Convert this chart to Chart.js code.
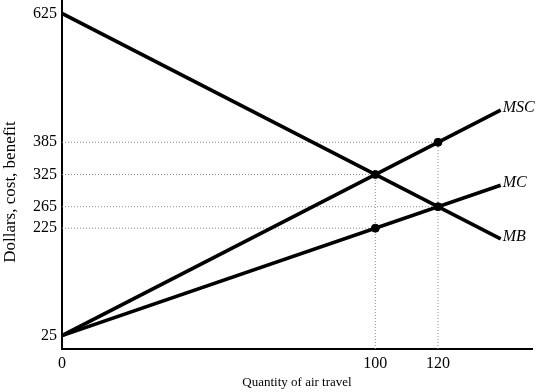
<!DOCTYPE html>
<html>
<head>
<meta charset="UTF-8">
<script src="https://cdn.jsdelivr.net/npm/chart.js"></script>
<style>
  body { margin: 0; background: #fff; }
  #wrap { width: 539px; height: 392px; }
</style>
</head>
<body>
<div id="wrap"><canvas id="graph" width="539" height="392"></canvas></div>
<script>
// data
const quantities = [0, 140];
const mscValues = [25, 445];
const mcValues = [25, 305];
const mbValues = [625, 205];
const markedX = [100, 100, 120, 120];
const markedY = [325, 225, 385, 265];
const yTicks = [25, 225, 265, 325, 385, 625];
const xTicks = [0, 100, 120];
const curveNames = ['MSC', 'MC', 'MB'];

const serif = '"Liberation Serif", "DejaVu Serif", serif';

function pts(xs, ys) {
  return xs.map((x, i) => ({ x: x, y: ys[i] }));
}

// the dots go first so they sit on top of the lines
const datasets = [{
  data: pts(markedX, markedY), showLine: false, pointRadius: 4,
  pointBackgroundColor: '#000', pointBorderColor: '#000'
}];
[mscValues, mcValues, mbValues].forEach(v => {
  datasets.push({
    data: pts(quantities, v), borderColor: '#000', borderWidth: 3.5,
    pointRadius: 0, fill: false
  });
});
// dotted guides: from y-axis to a point, and from x-axis up
for (let i = 0; i < markedX.length; i++) {
  datasets.push({
    data: pts([0, markedX[i]], [markedY[i], markedY[i]]),
    borderColor: '#8a8a8a', borderWidth: 1, borderDash: [1, 2], pointRadius: 0
  });
}
[[100, 325], [120, 385]].forEach(p => {
  datasets.push({
    data: pts([p[0], p[0]], [0, p[1]]),
    borderColor: '#8a8a8a', borderWidth: 1, borderDash: [1, 2], pointRadius: 0
  });
});

const extraText = {
  id: 'extraText',
  afterDraw(chart) {
    const c = chart.ctx, xs = chart.scales.x, ys = chart.scales.y;
    const ends = [mscValues[1], mcValues[1], mbValues[1]];
    c.save();
    c.fillStyle = '#000';
    c.textBaseline = 'middle';
    c.font = 'italic 16px ' + serif;
    curveNames.forEach((n, i) => {
      c.fillText(n, xs.getPixelForValue(quantities[1]) + 2, ys.getPixelForValue(ends[i]) - 2);
    });
    // y axis title
    c.font = '17px ' + serif;
    c.textAlign = 'center';
    c.translate(11, 192);
    c.rotate(-Math.PI / 2);
    c.fillText('Dollars, cost, benefit', 0, 0);
    c.restore();
  }
};

function noPad(s) {
  s.paddingTop = 0; s.paddingBottom = 0; s.paddingLeft = 0; s.paddingRight = 0;
}

new Chart(document.getElementById('graph'), {
  type: 'line',
  data: { datasets: datasets },
  plugins: [extraText],
  options: {
    responsive: false,
    animation: false,
    layout: { autoPadding: false, padding: { top: 0, right: 7, bottom: 0, left: 0 } },
    plugins: { legend: { display: false }, tooltip: { enabled: false } },
    scales: {
      x: {
        type: 'linear', min: 0, max: 150,
        grid: { display: false, drawTicks: false },
        border: { color: '#000', width: 2 },
        afterBuildTicks: s => { s.ticks = xTicks.map(v => ({ value: v })); },
        afterFit: s => { s.height = 43; noPad(s); },
        ticks: { color: '#000', font: { family: serif, size: 16 }, padding: 5, maxRotation: 0 },
        title: { display: true, text: 'Quantity of air travel', color: '#000',
                 font: { family: serif, size: 13 }, padding: { top: 0, bottom: 2 } }
      },
      y: {
        min: 0, max: 650,
        grid: { display: false, drawTicks: false },
        border: { color: '#000', width: 2 },
        afterBuildTicks: s => { s.ticks = yTicks.map(v => ({ value: v })); },
        afterFit: s => { s.width = 62; noPad(s); },
        ticks: { color: '#000', font: { family: serif, size: 16 }, padding: 5 }
      }
    }
  }
});
</script>
</body>
</html>
